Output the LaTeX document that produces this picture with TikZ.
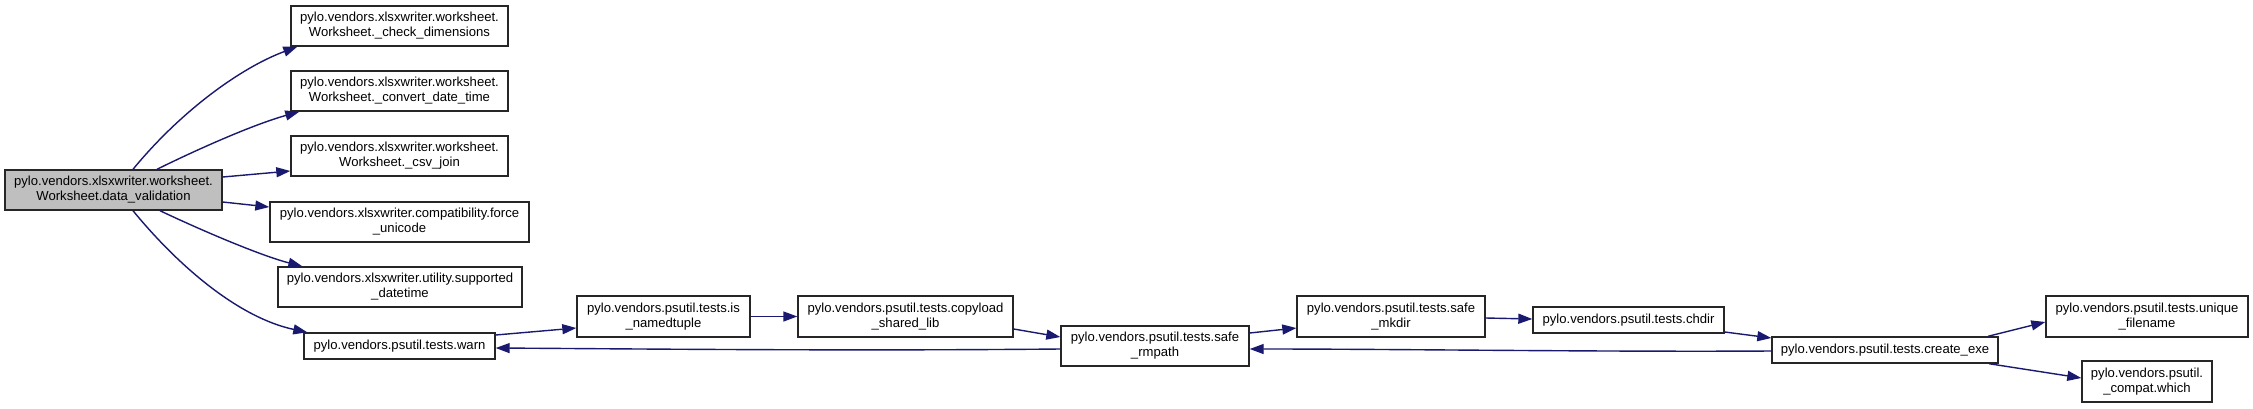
\documentclass[tikz,border=0pt]{standalone}
\usepackage{fontspec}
\setmainfont{Liberation Sans}
\usetikzlibrary{arrows.meta}
\definecolor{edgeblue}{HTML}{191970}
\definecolor{mainfill}{HTML}{BFBFBF}
\definecolor{bordercol}{HTML}{262626}
\begin{document}
\begin{tikzpicture}[x=1pt,y=-1pt,
  box/.style={draw=bordercol, line width=1.4pt, fill=white, rectangle, inner sep=0pt, align=center,
    font=\fontsize{13.1}{15}\selectfont},
  mainbox/.style={box, fill=mainfill},
  edge/.style={draw=edgeblue, line width=1.4pt, -{Triangle[length=14pt,width=10pt]}}]
\useasboundingbox (0,0) rectangle (2253,408);
% nodes
\node[mainbox, minimum width=217pt, minimum height=40pt] (main) at (113.5,190) {pylo.vendors.xlsxwriter.worksheet.\\Worksheet.data\_validation};
\node[box, minimum width=217pt, minimum height=40pt] (check) at (399.5,26) {pylo.vendors.xlsxwriter.worksheet.\\Worksheet.\_check\_dimensions};
\node[box, minimum width=217pt, minimum height=40pt] (convert) at (399.5,91) {pylo.vendors.xlsxwriter.worksheet.\\Worksheet.\_convert\_date\_time};
\node[box, minimum width=217pt, minimum height=40pt] (csv) at (399.5,156) {pylo.vendors.xlsxwriter.worksheet.\\Worksheet.\_csv\_join};
\node[box, minimum width=259pt, minimum height=40pt] (force) at (399.5,222) {pylo.vendors.xlsxwriter.compatibility.force\\\_unicode};
\node[box, minimum width=244pt, minimum height=40pt] (supported) at (400,287) {pylo.vendors.xlsxwriter.utility.supported\\\_datetime};
\node[box, minimum width=191pt, minimum height=26pt] (warn) at (399.5,346) {pylo.vendors.psutil.tests.warn};
\node[box, minimum width=173pt, minimum height=41pt] (isnt) at (663.5,316.5) {pylo.vendors.psutil.tests.is\\\_namedtuple};
\node[box, minimum width=215pt, minimum height=41pt] (copyload) at (905.5,316.5) {pylo.vendors.psutil.tests.copyload\\\_shared\_lib};
\node[box, minimum width=188pt, minimum height=40pt] (rmpath) at (1155,346) {pylo.vendors.psutil.tests.safe\\\_rmpath};
\node[box, minimum width=188pt, minimum height=41pt] (mkdir) at (1391,316.5) {pylo.vendors.psutil.tests.safe\\\_mkdir};
\node[box, minimum width=191pt, minimum height=26pt] (chdir) at (1628.5,320) {pylo.vendors.psutil.tests.chdir};
\node[box, minimum width=226pt, minimum height=26pt] (create) at (1885,350) {pylo.vendors.psutil.tests.create\_exe};
\node[box, minimum width=202pt, minimum height=41pt] (unique) at (2147,316.5) {pylo.vendors.psutil.tests.unique\\\_filename};
\node[box, minimum width=130pt, minimum height=41pt] (which) at (2147,381.5) {pylo.vendors.psutil.\\\_compat.which};
% edges
\draw[edge] ([xshift=19.5pt]main.north) .. controls (180,112) and (240,68) .. ([xshift=7pt]check.south west);
\draw[edge] ([xshift=43.5pt]main.north) .. controls (200,148) and (255,124) .. ([xshift=9pt]convert.south west);
\draw[edge] ([yshift=13pt]main.east) -- ([yshift=-15pt]csv.west);
\draw[edge] ([yshift=-12pt]main.east) -- ([yshift=15pt]force.west);
\draw[edge] ([xshift=46.5pt]main.south) .. controls (205,232) and (262,256) .. ([xshift=25pt]supported.north west);
\draw[edge] ([xshift=19.5pt]main.south) .. controls (180,268) and (240,318) .. ([xshift=4pt]warn.north west);
\draw[edge] ([yshift=11pt]warn.east) -- ([yshift=-11.5pt]isnt.west);
\draw[edge] (isnt.east) -- (copyload.west);
\draw[edge] ([yshift=-12.5pt]copyload.east) -- ([yshift=9pt]rmpath.west);
\draw[edge] ([yshift=-3pt]rmpath.west) .. controls (850,351) and (650,349) .. ([yshift=-2pt]warn.east);
\draw[edge] ([yshift=13pt]rmpath.east) -- ([yshift=-11.5pt]mkdir.west);
\draw[edge] ([yshift=-1.5pt]mkdir.east) -- ([yshift=1pt]chdir.west);
\draw[edge] ([yshift=-12pt]chdir.east) -- ([yshift=12pt]create.west);
\draw[edge] ([yshift=-1pt]create.west) .. controls (1600,352) and (1400,349) .. ([yshift=-3pt]rmpath.east);
\draw[edge] ([xshift=103pt]create.north) -- ([yshift=-5.5pt]unique.west);
\draw[edge] ([xshift=104pt]create.south) -- ([yshift=3.5pt]which.west);
\end{tikzpicture}
\end{document}
